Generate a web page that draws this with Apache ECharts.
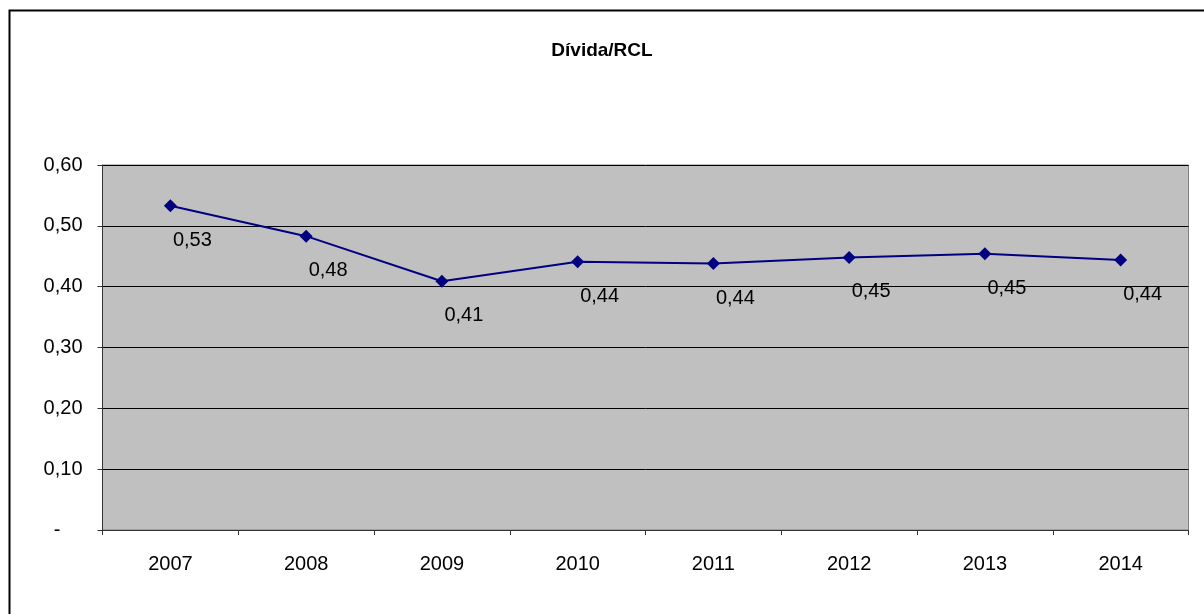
<!DOCTYPE html>
<html>
<head>
<meta charset="utf-8">
<script src="https://cdn.jsdelivr.net/npm/echarts@6/dist/echarts.min.js"></script>
<style>
html,body{margin:0;padding:0;background:#fff;}
#chart{width:1204px;height:614px;}
</style>
</head>
<body>
<div id="chart"></div>
<script>
const titleText = 'Dívida/RCL';
const categories = ['2007','2008','2009','2010','2011','2012','2013','2014'];
const values = [0.533, 0.483, 0.409, 0.441, 0.438, 0.448, 0.454, 0.444];
const yTicks = [0, 0.1, 0.2, 0.3, 0.4, 0.5, 0.6];

const FONT = '"Liberation Sans Narrow", "Liberation Sans", Arial, sans-serif';
const fmt = v => v.toFixed(2).replace('.', ',');

const chart = echarts.init(document.getElementById('chart'), null, {renderer: 'canvas'});
chart.setOption({
  animation: false,
  backgroundColor: '#ffffff',
  title: {
    text: titleText,
    left: 'center',
    top: 36,
    textStyle: {fontFamily: FONT, fontSize: 19, fontWeight: 'bold', color: '#000'}
  },
  graphic: [{
    type: 'rect',
    shape: {x: 9.5, y: 10.5, width: 1300, height: 700},
    style: {fill: 'none', stroke: '#000', lineWidth: 2},
    silent: true, z: 100
  }],
  grid: {
    left: 102.5, right: 15.5, top: 165, bottom: 84,
    show: true, backgroundColor: '#C0C0C0', borderColor: '#808080', borderWidth: 1
  },
  xAxis: {
    type: 'category',
    data: categories,
    boundaryGap: true,
    axisLine: {lineStyle: {color: '#333', width: 1}},
    axisTick: {show: true, length: 5, inside: false, lineStyle: {color: '#333'}},
    axisLabel: {fontFamily: FONT, fontSize: 20, color: '#000', margin: 24}
  },
  yAxis: {
    type: 'value',
    min: yTicks[0], max: yTicks[yTicks.length - 1], interval: 0.1,
    axisLine: {show: true, lineStyle: {color: '#333', width: 1}},
    axisTick: {show: true, length: 5, lineStyle: {color: '#333'}},
    splitLine: {show: true, lineStyle: {color: '#000', width: 1}},
    axisLabel: {
      fontFamily: FONT, fontSize: 20, color: '#000', margin: 20,
      formatter: v => Math.abs(v) < 1e-9 ? '{z|-}' : fmt(v),
      rich: {z: {fontFamily: FONT, fontSize: 20, color: '#000', padding: [0, 22, 0, 0]}}
    }
  },
  series: [{
    type: 'line',
    data: values,
    symbol: 'diamond',
    symbolSize: 13,
    lineStyle: {color: '#000080', width: 2},
    itemStyle: {color: '#000080'},
    label: {
      show: true,
      position: 'bottom',
      offset: [22, 13],
      fontFamily: FONT, fontSize: 20, color: '#000',
      formatter: p => fmt(p.value)
    }
  }]
});
</script>
</body>
</html>
